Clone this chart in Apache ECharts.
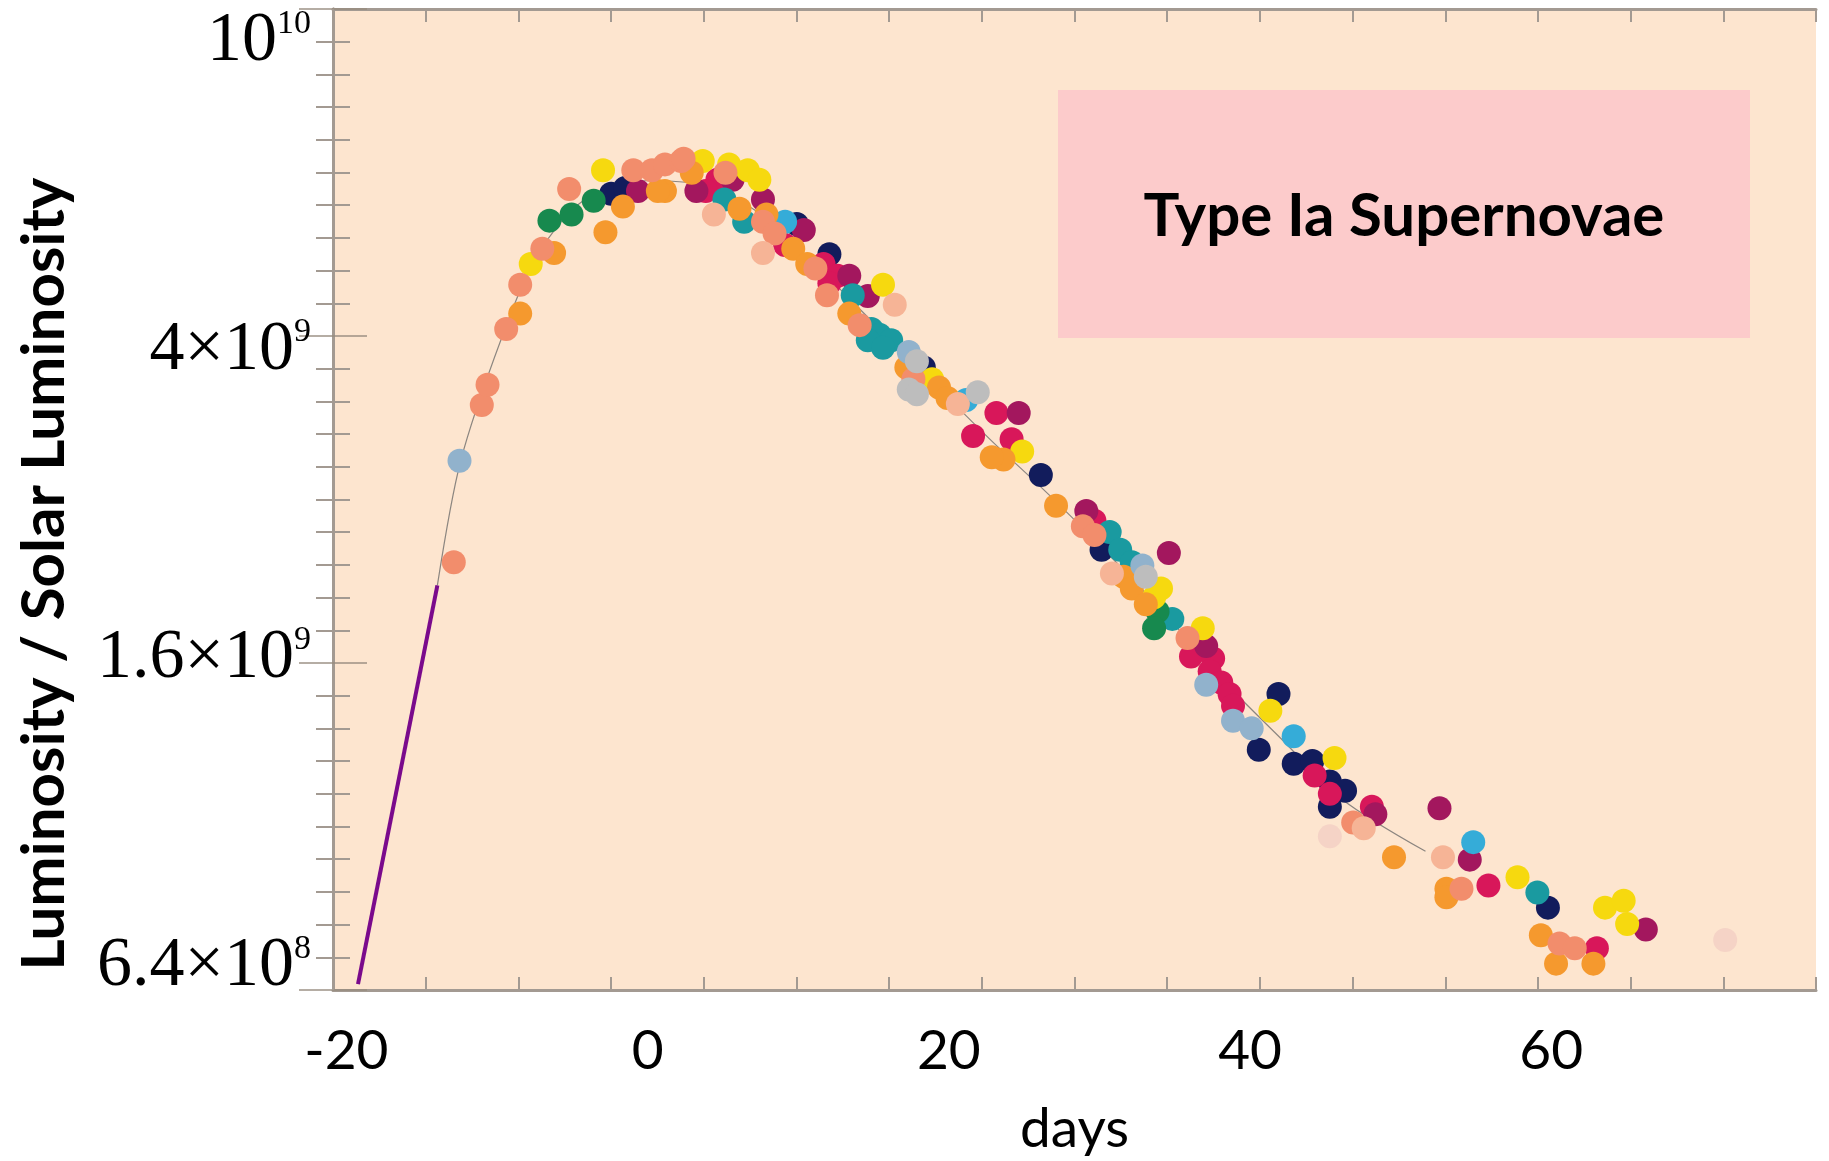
<!DOCTYPE html>
<html>
<head>
<meta charset="utf-8">
<title>Type Ia Supernovae</title>
<script src="https://cdn.jsdelivr.net/npm/echarts@6.0.0/dist/echarts.min.js"></script>
<style>
  html, body { margin: 0; padding: 0; background: #fff; }
  #chart { width: 1829px; height: 1161px; }
</style>
</head>
<body>
<div id="chart"></div>
<script>
// light curve points: [day, luminosity in solar units], one list per colour
const navy = [[-2.42,6.37e9],[-1.49,6.48e9],[9.90,5.82e9],[12.07,5.32e9],[18.34,3.80e9],[26.11,2.76e9],[30.14,2.21e9],[41.89,1.44e9],[40.58,1.22e9],[42.90,1.17e9],[44.14,1.18e9],[45.30,1.11e9],[46.31,1.08e9],[45.30,1.03e9],[59.78,0.763e9]]
const crimson = [[4.63,6.64e9],[3.86,6.42e9],[9.13,5.47e9],[11.68,5.17e9],[12.61,4.99e9],[12.07,4.88e9],[23.16,3.32e9],[21.61,3.10e9],[24.17,3.07e9],[29.67,2.41e9],[36.08,1.61e9],[37.55,1.60e9],[37.32,1.54e9],[38.09,1.49e9],[38.64,1.44e9],[38.87,1.39e9],[44.29,1.13e9],[45.30,1.07e9],[48.09,1.03e9],[55.83,0.815e9],[63.03,0.676e9]]
const magenta = [[-0.64,6.42e9],[3.24,6.42e9],[5.64,6.64e9],[7.66,6.26e9],[10.37,5.72e9],[13.39,4.99e9],[14.62,4.70e9],[24.64,3.32e9],[29.13,2.48e9],[34.61,2.19e9],[37.09,1.66e9],[48.32,1.007e9],[52.58,1.025e9],[54.59,0.880e9],[66.28,0.715e9]]
const teal = [[5.10,6.26e9],[6.41,5.86e9],[13.62,4.71e9],[14.86,4.26e9],[15.40,4.19e9],[14.62,4.12e9],[16.17,4.12e9],[15.63,4.03e9],[30.68,2.33e9],[31.38,2.21e9],[32.15,2.13e9],[34.84,1.80e9],[59.08,0.798e9]]
const cyan = [[9.13,5.86e9],[21.15,3.45e9],[42.90,1.27e9],[54.82,0.927e9]]
const green = [[-6.52,5.88e9],[-5.05,5.99e9],[-3.58,6.24e9],[33.86,1.84e9],[33.63,1.75e9]]
const yellow = [[-7.76,5.17e9],[-2.96,6.83e9],[3.66,7.02e9],[5.41,6.95e9],[6.65,6.83e9],[7.42,6.64e9],[15.63,4.86e9],[18.89,3.67e9],[24.87,2.96e9],[33.63,1.92e9],[34.09,1.97e9],[36.86,1.75e9],[41.35,1.37e9],[45.61,1.19e9],[57.76,0.835e9],[63.57,0.763e9],[64.81,0.779e9],[65.04,0.727e9]]
const orange = [[-8.46,4.46e9],[-6.21,5.34e9],[-2.80,5.68e9],[-1.64,6.13e9],[1.15,6.42e9],[2.93,6.78e9],[0.68,6.42e9],[6.10,6.09e9],[7.89,5.99e9],[9.67,5.41e9],[10.60,5.17e9],[13.39,4.46e9],[17.18,3.80e9],[19.35,3.58e9],[19.91,3.47e9],[23.63,2.89e9],[22.85,2.91e9],[27.12,2.52e9],[31.61,2.04e9],[32.15,1.97e9],[33.08,1.88e9],[49.56,0.886e9],[53.04,0.807e9],[53.04,0.787e9],[59.31,0.703e9],[60.32,0.646e9],[62.80,0.646e9]]
const salmon = [[-12.87,2.13e9],[-11.01,3.40e9],[-10.63,3.61e9],[-9.39,4.26e9],[-8.46,4.86e9],[-6.99,5.41e9],[-5.21,6.46e9],[-0.95,6.83e9],[0.29,6.83e9],[1.15,6.95e9],[2.23,7.02e9],[2.39,7.07e9],[5.17,6.78e9],[7.66,5.86e9],[8.43,5.66e9],[11.14,5.10e9],[11.91,4.71e9],[14.08,4.31e9],[17.65,3.67e9],[28.90,2.37e9],[29.67,2.31e9],[35.85,1.70e9],[46.85,0.983e9],[54.04,0.807e9],[60.55,0.686e9],[61.56,0.676e9]]
const lightSalmon = [[4.40,5.99e9],[7.66,5.34e9],[16.41,4.58e9],[20.60,3.41e9],[30.83,2.06e9],[47.55,0.966e9],[52.81,0.886e9]]
const lightBlue = [[-12.49,2.88e9],[17.34,3.98e9],[32.85,2.11e9],[37.09,1.48e9],[38.87,1.33e9],[40.11,1.30e9]]
const gray = [[17.88,3.87e9],[17.34,3.56e9],[17.88,3.51e9],[21.92,3.53e9],[33.08,2.04e9]]
const pale = [[45.30,0.943e9],[71.55,0.693e9]]

// thin template curve through the points
const templateDays = [-13.96,-12.41,-9.70,-7.38,-4.28,-0.02,3.47,7.34,11.22,15.09,18.96,22.84,26.71,30.58,34.46,38.33,42.20,46.08,51.65]
const templateLum = [1.988e9,2.88e9,4.146e9,5.284e9,6.24e9,6.62e9,6.55e9,6.03e9,5.14e9,4.32e9,3.63e9,3.055e9,2.596e9,2.183e9,1.816e9,1.491e9,1.253e9,1.054e9,0.902e9]

// purple extrapolation of the rise
const riseDays = [-19.23, -13.96]
const riseLum = [6.08e8, 1.988e9]

// axes
const xMin = -20.89, xMax = 77.58
const xTicks = [-20, 0, 20, 40, 60]
const yMinLum = 5.973e8, yMaxLum = 1.103e10
const yTickLum = [6.4e8, 1.6e9, 4e9, 1e10]
const yTickText = [['6.4×10', '8'], ['1.6×10', '9'], ['4×10', '9'], ['10', '10']]

const groups = [
  { pts: navy, color: '#121c5c' },
  { pts: crimson, color: '#d8175a' },
  { pts: magenta, color: '#a3175e' },
  { pts: teal, color: '#1a9aa0' },
  { pts: cyan, color: '#35acd8' },
  { pts: green, color: '#17894e' },
  { pts: yellow, color: '#f6d90f' },
  { pts: orange, color: '#f5992e' },
  { pts: salmon, color: '#f28d6c' },
  { pts: lightSalmon, color: '#f6b496' },
  { pts: lightBlue, color: '#91b2cc' },
  { pts: gray, color: '#bdbdbd' },
  { pts: pale, color: '#f5d3c6' }
]

const frame = '#a39a92'
const lg = Math.log10

const chart = echarts.init(document.getElementById('chart'))

// plain axes that only draw the frame ticks of the original plot
const tickX = pos => ({
  type: 'value', min: 0, max: 16, interval: 1, position: pos,
  axisLine: { show: true, lineStyle: { color: frame, width: 3 } },
  axisTick: { show: true, inside: true, length: 13, lineStyle: { color: frame, width: 2 } },
  axisLabel: { show: false }, splitLine: { show: false }
})
const tickY = pos => ({
  type: 'value', min: 0, max: 30, interval: 10, position: pos,
  axisLine: { show: true, lineStyle: { color: frame, width: 3 } },
  axisTick: { show: true, inside: true, length: 34, lineStyle: { color: 'rgba(150,138,126,0.7)', width: 2 } },
  minorTick: { show: true, splitNumber: 10, length: 17, lineStyle: { color: frame, width: 2 } },
  axisLabel: { show: false }, splitLine: { show: false }, minorSplitLine: { show: false }
})

const series = groups.map(g => ({
  type: 'scatter',
  xAxisIndex: 0, yAxisIndex: 0,
  symbolSize: 24,
  itemStyle: { color: g.color, opacity: 1 },
  data: g.pts.map(p => [p[0], lg(p[1])]),
  z: 3
}))
series.unshift({
  type: 'line', xAxisIndex: 0, yAxisIndex: 0, smooth: 0.3, showSymbol: false,
  lineStyle: { color: '#8c8680', width: 1.2 },
  data: templateDays.map((d, i) => [d, lg(templateLum[i])]),
  z: 2
})
series.push({
  type: 'line', xAxisIndex: 0, yAxisIndex: 0, showSymbol: false,
  lineStyle: { color: '#7a0a8c', width: 4 },
  data: riseDays.map((d, i) => [d, lg(riseLum[i])]),
  z: 4
})

chart.setOption({
  animation: false,
  backgroundColor: '#ffffff',
  grid: { left: 333, right: 13, top: 9, bottom: 171, show: true, backgroundColor: '#fde5cf', borderWidth: 0, outerBoundsMode: 'none' },
  xAxis: [
    {
      type: 'value', min: xMin, max: xMax, position: 'bottom',
      axisLine: { show: false }, axisTick: { show: false }, splitLine: { show: false },
      axisLabel: { customValues: xTicks, margin: 34, fontFamily: 'Lato', fontSize: 55, color: '#000' },
      name: 'days', nameLocation: 'middle', nameGap: 112, nameMoveOverlap: false,
      nameTextStyle: { fontFamily: 'Lato', fontSize: 55, color: '#000' }
    },
    tickX('bottom'),
    tickX('top')
  ],
  yAxis: [
    {
      type: 'value', min: lg(yMinLum), max: lg(yMaxLum), position: 'left',
      axisLine: { show: false }, axisTick: { show: false }, splitLine: { show: false },
      axisLabel: {
        customValues: yTickLum.map(lg), margin: 22,
        formatter: v => {
          const i = yTickLum.findIndex(t => Math.abs(lg(t) - v) < 1e-6)
          return i < 0 ? '' : '{b|' + yTickText[i][0] + '}{s|' + yTickText[i][1] + '}'
        },
        rich: {
          b: { fontFamily: 'Liberation Serif', fontSize: 70, lineHeight: 70, color: '#000' },
          s: { fontFamily: 'Liberation Serif', fontSize: 34, lineHeight: 34, verticalAlign: 'top', color: '#000' }
        }
      },
      name: 'Luminosity / Solar Luminosity', nameLocation: 'middle', nameRotate: 90, nameGap: 258, nameMoveOverlap: false,
      nameTextStyle: { fontFamily: 'Lato', fontWeight: 'bold', fontSize: 60, color: '#000', padding: [0, 149, 0, 0] }
    },
    tickY('left'),
    tickY('right')
  ],
  graphic: [
    { type: 'rect', shape: { x: 1058, y: 90, width: 692, height: 248 }, style: { fill: '#fccbcb' }, z: 5 },
    { type: 'text', x: 1404, y: 217, z: 6,
      style: { text: 'Type Ia Supernovae', fontFamily: 'Lato', fontWeight: 'bold', fontSize: 60, fill: '#000', textAlign: 'center', textVerticalAlign: 'middle' } }
  ],
  series: series
})
</script>
</body>
</html>
